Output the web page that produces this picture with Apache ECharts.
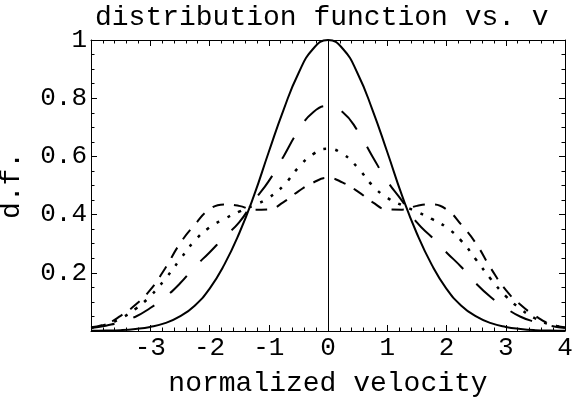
<!DOCTYPE html>
<html>
<head>
	<meta charset="utf-8" />
	<title>distribution function vs. v</title>
	<script type="text/javascript" src="https://cdn.jsdelivr.net/npm/echarts@6/dist/echarts.min.js"></script>
	<style>
		html, body { margin: 0; padding: 0; background: #fff; }
		#chart { width: 574px; height: 397px; }
	</style>
</head>
<body>
	<div id="chart"></div>
	<script type="text/javascript">
		// normalized velocity samples
		var velocity = [-4, -3.75, -3.5, -3.25, -3, -2.75, -2.5, -2.25, -2, -1.75, -1.5, -1.25, -1, -0.75, -0.5, -0.25,
			0, 0.25, 0.5, 0.75, 1, 1.25, 1.5, 1.75, 2, 2.25, 2.5, 2.75, 3, 3.25, 3.5, 3.75, 4];
		// solid curve
		var dfSolid = [0.0007, 0.0015, 0.003, 0.007, 0.014, 0.027, 0.05, 0.087, 0.145, 0.228, 0.335, 0.465, 0.615, 0.76, 0.885, 0.97,
			1.0, 0.97, 0.885, 0.76, 0.615, 0.465, 0.335, 0.228, 0.145, 0.087, 0.05, 0.027, 0.014, 0.007, 0.003, 0.0015, 0.0007];
		// long dashes
		var dfLong = [0.01, 0.018, 0.031, 0.049, 0.079, 0.116, 0.163, 0.22, 0.27, 0.323, 0.373, 0.447, 0.515, 0.60, 0.688, 0.752,
			0.773, 0.752, 0.688, 0.60, 0.515, 0.447, 0.373, 0.323, 0.27, 0.22, 0.163, 0.116, 0.079, 0.049, 0.031, 0.018, 0.01];
		// dots
		var dfDotted = [0.012, 0.022, 0.043, 0.076, 0.12, 0.178, 0.245, 0.31, 0.356, 0.385, 0.41, 0.432, 0.458, 0.50, 0.562, 0.608,
			0.626, 0.608, 0.562, 0.50, 0.458, 0.432, 0.41, 0.385, 0.356, 0.31, 0.245, 0.178, 0.12, 0.076, 0.043, 0.022, 0.012];
		// short dashes
		var dfShort = [0.013, 0.024, 0.052, 0.09, 0.141, 0.215, 0.30, 0.365, 0.418, 0.435, 0.43, 0.417, 0.418, 0.443, 0.48, 0.51,
			0.526, 0.51, 0.48, 0.443, 0.418, 0.417, 0.43, 0.435, 0.418, 0.365, 0.30, 0.215, 0.141, 0.09, 0.052, 0.024, 0.013];

		function pairs(ys) {
			return velocity.map(function (v, i) { return [v, ys[i]]; });
		}

		var font = 'Liberation Mono';
		var chart = echarts.init(document.getElementById('chart'), null, { renderer: 'canvas' });

		function frameX(pos, labels) {
			return {
				type: 'value', position: pos, min: -4, max: 4, interval: 1,
				name: labels ? 'normalized velocity' : '', nameLocation: 'middle', nameGap: 39,
				nameTextStyle: { fontFamily: font, fontSize: 28, color: '#000' },
				axisLine: { show: true, onZero: false, lineStyle: { color: '#000', width: 1 } },
				axisTick: { show: true, inside: true, length: 6, lineStyle: { color: '#000' } },
				minorTick: { show: true, splitNumber: 5, length: 3.5, lineStyle: { color: '#000' } },
				axisLabel: {
					show: labels, margin: 4, fontFamily: font, fontSize: 26, color: '#000',
					formatter: function (v) { return v === -4 ? '' : String(v); }
				},
				splitLine: { show: false }
			};
		}
		function frameY(pos, labels) {
			return {
				type: 'value', position: pos, min: 0, max: 1, interval: 0.2,
				name: labels ? 'd.f.' : '', nameLocation: 'middle', nameGap: 65,
				nameTextStyle: { fontFamily: font, fontSize: 28, color: '#000' },
				axisLine: { show: true, onZero: false, lineStyle: { color: '#000', width: 1 } },
				axisTick: { show: true, inside: true, length: 6, lineStyle: { color: '#000' } },
				minorTick: { show: true, splitNumber: 4, length: 3.5, lineStyle: { color: '#000' } },
				axisLabel: {
					show: labels, margin: 4, fontFamily: font, fontSize: 26, color: '#000',
					formatter: function (v) { return v === 0 ? '' : String(+v.toFixed(1)); }
				},
				splitLine: { show: false }
			};
		}

		var option = {
			animation: false,
			backgroundColor: '#fff',
			title: {
				text: 'distribution function vs. v',
				left: 95, top: 4, padding: 0,
				textStyle: { fontFamily: font, fontSize: 28, fontWeight: 'normal', color: '#000' }
			},
			grid: { left: 91, right: 9, top: 40, bottom: 66, containLabel: false, outerBoundsMode: 'none' },
			xAxis: [frameX('bottom', true), frameX('top', false)],
			yAxis: [frameY('left', true), frameY('right', false)],
			series: [
				{
					name: 'solid', type: 'line', data: pairs(dfSolid), smooth: true, showSymbol: false,
					lineStyle: { color: '#000', width: 2 },
					markLine: {
						silent: true, symbol: 'none', label: { show: false },
						lineStyle: { color: '#000', width: 1, type: 'solid' },
						data: [{ xAxis: 0 }]
					}
				},
				{
					name: 'long', type: 'line', data: pairs(dfLong), smooth: true, showSymbol: false,
					lineStyle: { color: '#000', width: 2, type: [24, 20], cap: 'butt' }
				},
				{
					name: 'dotted', type: 'line', data: pairs(dfDotted), smooth: true, showSymbol: false,
					lineStyle: { color: '#000', width: 2.5, type: [3, 9], cap: 'butt' }
				},
				{
					name: 'short', type: 'line', data: pairs(dfShort), smooth: true, showSymbol: false,
					lineStyle: { color: '#000', width: 2, type: [12, 10], cap: 'butt' }
				}
			]
		};
		chart.setOption(option);
	</script>
</body>
</html>
